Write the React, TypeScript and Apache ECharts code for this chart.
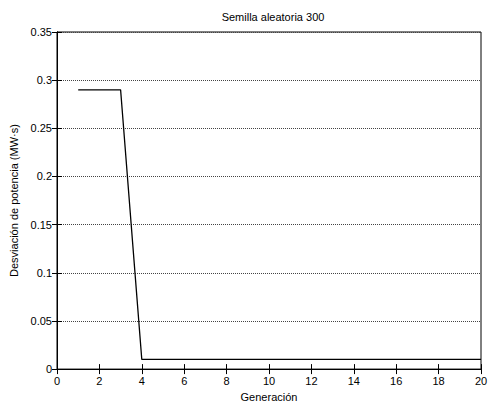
import React, { useEffect, useRef } from "react";
import * as echarts from "echarts";

const generations = [1, 2, 3, 4, 5, 6, 7, 8, 9, 10, 11, 12, 13, 14, 15, 16, 17, 18, 19, 20];
const deviation = [0.29, 0.29, 0.29, 0.01, 0.01, 0.01, 0.01, 0.01, 0.01, 0.01, 0.01, 0.01, 0.01, 0.01, 0.01, 0.01, 0.01, 0.01, 0.01, 0.01];
const titleText = "Semilla aleatoria 300";
const xName = "Generación";
const yName = "Desviación de potencia (MW·s)";

export default function App() {
  const ref = useRef<HTMLDivElement>(null);
  useEffect(() => {
    if (!ref.current) return;
    const chart = echarts.init(ref.current, undefined, { renderer: "svg" });
    const font = "Liberation Sans, Arial, sans-serif";
    const tickCommon = { show: true, inside: true, length: 5, lineStyle: { color: "#000" } };
    chart.setOption({
      animation: false,
      backgroundColor: "#fff",
      title: {
        text: titleText,
        left: 268,
        top: 6,
        textAlign: "center",
        textStyle: { fontFamily: font, fontSize: 11, fontWeight: "normal", color: "#000" },
      },
      grid: { left: 55, right: 10, top: 32, bottom: 36, show: true, borderColor: "#000", borderWidth: 1 },
      xAxis: [
        {
          type: "value",
          min: 0,
          max: 20,
          interval: 2,
          name: xName,
          nameLocation: "middle",
          nameGap: 18,
          nameTextStyle: { fontFamily: font, fontSize: 11, color: "#000" },
          axisLine: { show: true, lineStyle: { color: "#000" } },
          axisTick: tickCommon,
          axisLabel: { fontFamily: font, fontSize: 11, color: "#000", margin: 6 },
          splitLine: { show: false },
        },
        {
          type: "value",
          position: "top",
          min: 0,
          max: 20,
          interval: 2,
          axisLine: { show: true, lineStyle: { color: "#000" } },
          axisTick: tickCommon,
          axisLabel: { show: false },
          splitLine: { show: false },
        },
      ],
      yAxis: [
        {
          type: "value",
          min: 0,
          max: 0.35,
          interval: 0.05,
          name: yName,
          nameLocation: "middle",
          nameGap: 38,
          nameTextStyle: { fontFamily: font, fontSize: 11, color: "#000" },
          axisLine: { show: true, lineStyle: { color: "#000" } },
          axisTick: tickCommon,
          axisLabel: { fontFamily: font, fontSize: 11, color: "#000", margin: 5 },
          splitLine: { show: true, lineStyle: { color: "#444", type: "dotted", width: 1 } },
        },
        {
          type: "value",
          position: "right",
          min: 0,
          max: 0.35,
          interval: 0.05,
          axisLine: { show: true, lineStyle: { color: "#000" } },
          axisTick: tickCommon,
          axisLabel: { show: false },
          splitLine: { show: false },
        },
      ],
      series: [
        {
          type: "line",
          data: generations.map((g, i) => [g, deviation[i]]),
          showSymbol: false,
          symbol: "none",
          lineStyle: { color: "#000", width: 1.3 },
        },
      ],
    });
    return () => chart.dispose();
  }, []);
  return <div ref={ref} style={{ position: "fixed", left: 0, top: 0, width: 491, height: 407 }} />;
}
